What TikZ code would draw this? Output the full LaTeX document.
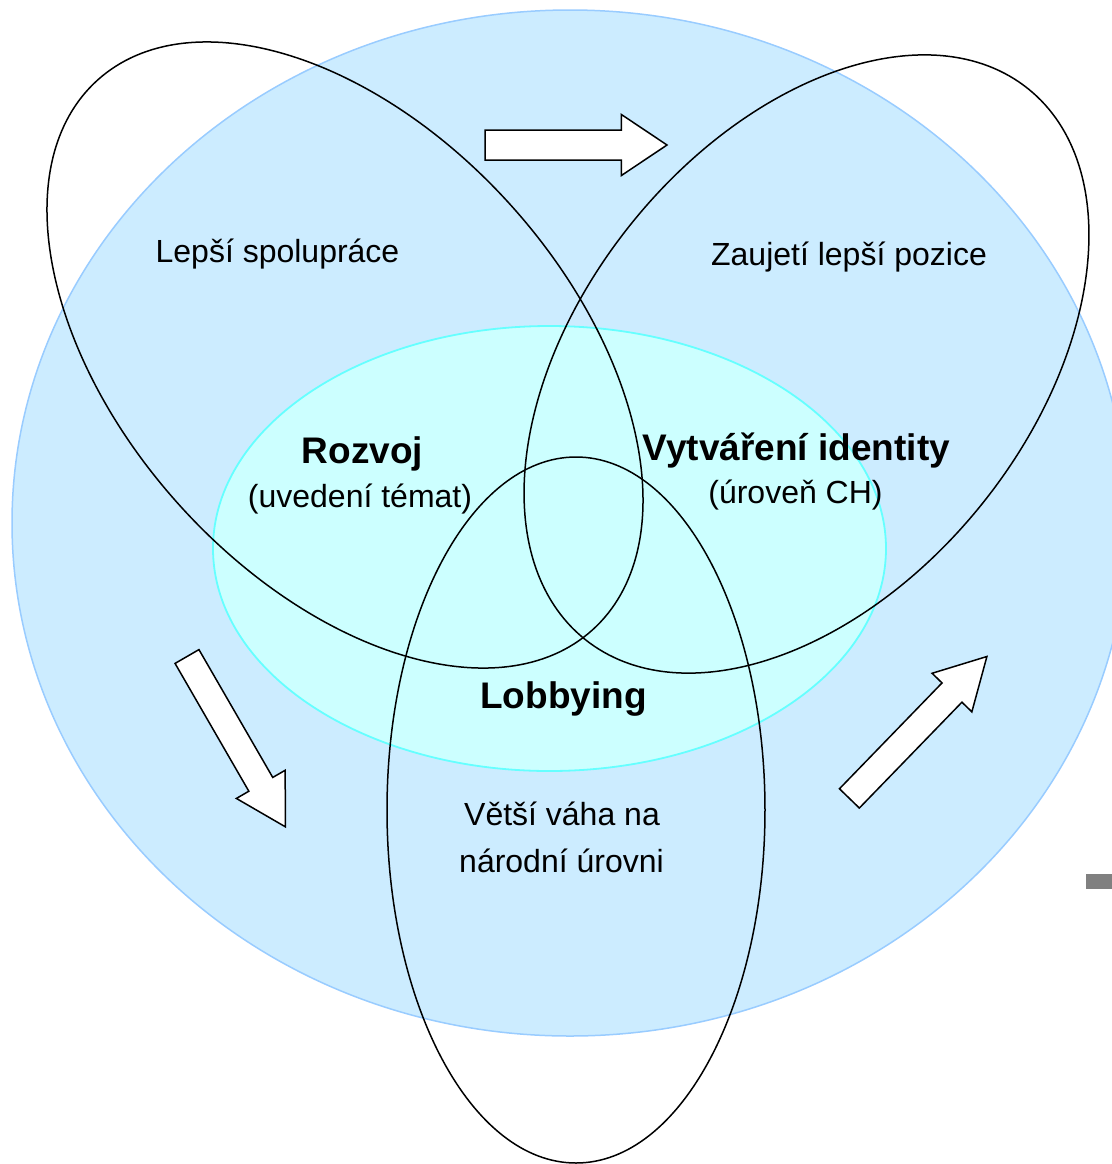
\documentclass[tikz,border=0pt]{standalone}
\usepackage{fontspec}
\setmainfont{Liberation Sans}
\definecolor{bigfill}{HTML}{CCECFF}
\definecolor{bigline}{HTML}{99CCFF}
\definecolor{innfill}{HTML}{CCFFFF}
\definecolor{innline}{HTML}{66FFFF}
\definecolor{markgray}{HTML}{808080}
\begin{document}
\begin{tikzpicture}[x=0.5pt,y=-0.5pt,
  outl/.style={draw=black,line width=0.75pt},
  arrowbox/.style={draw=black,fill=white,line width=0.75pt,line join=miter},
  lbl/.style={anchor=base,inner sep=0pt,font=\fontsize{16}{19}\selectfont},
  blbl/.style={anchor=base,inner sep=0pt,font=\fontsize{18.5}{22}\selectfont\bfseries}]
\useasboundingbox (0,0) rectangle (1112,1164);
\clip (0,0) rectangle (1112,1164);
\fill[white] (0,0) rectangle (1112,1164);
% big ellipse
\draw[fill=bigfill,draw=bigline,line width=0.75pt] (570,523) ellipse [x radius=558,y radius=513];
% inner ellipse
\draw[fill=innfill,draw=innline,line width=0.9pt] (549.5,548.5) ellipse [x radius=336.5,y radius=222.5];
% outline ellipses
\draw[outl,shift={(345,355)},rotate=-48.03] (0,0) ellipse [x radius=369.9,y radius=223.5];
\draw[outl,shift={(806.5,364)},rotate=51.1] (0,0) ellipse [x radius=353.4,y radius=224.5];
\draw[outl] (576,810) ellipse [x radius=189,y radius=353];
% block arrows
\draw[arrowbox,shift={(485,145)}] (0,-15) -- (136.4,-15) -- (136.4,-30.5) -- (182,0) -- (136.4,30.5) -- (136.4,15) -- (0,15) -- cycle;
\draw[arrowbox,shift={(187,656.5)},rotate=-60] (0,-13.8) -- (147.6,-13.8) -- (147.6,-28.2) -- (196.6,0) -- (147.6,28.2) -- (147.6,13.8) -- (0,13.8) -- cycle;
\draw[arrowbox,shift={(849.4,798.4)},rotate=45.9] (0,-13.85) -- (147.4,-13.85) -- (147.4,-27.7) -- (197.6,0) -- (147.4,27.7) -- (147.4,13.85) -- (0,13.85) -- cycle;
% gray mark
\fill[markgray] (1086,874) rectangle (1112,889);
% labels
\node[lbl] (lepsi) at (277.5,262) {Lepší spolupráce};
\node[lbl] (zaujeti) at (849,265) {Zaujetí lepší pozice};
\node[blbl] (rozvoj) at (362.5,463) {Rozvoj};
\node[lbl] (uvedeni) at (360,507) {(uvedení témat)};
\node[blbl] (vytvareni) at (796.5,460) {Vytváření identity};
\node[lbl] (uroven) at (795.5,503) {(úroveň CH)};
\node[blbl] (lobbying) at (563.5,708) {Lobbying};
\node[lbl] (vetsi) at (562,825) {Větší váha na};
\node[lbl] (narodni) at (561.5,872) {národní úrovni};
\end{tikzpicture}
\end{document}
